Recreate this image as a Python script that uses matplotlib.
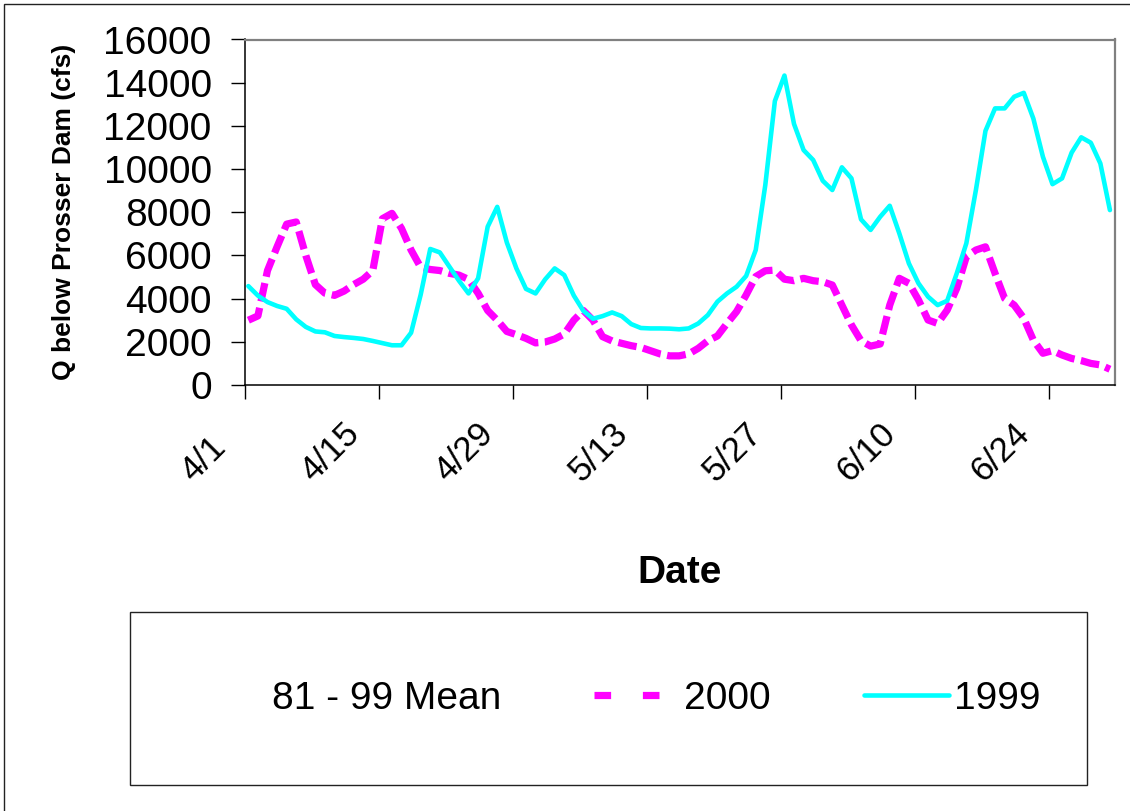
import numpy as np
import matplotlib
matplotlib.use("Agg")
import matplotlib.pyplot as plt
import matplotlib.transforms as mtransforms
from matplotlib.lines import Line2D
from matplotlib.patches import Rectangle

plt.rcParams['font.family'] = ['Liberation Sans', 'DejaVu Sans']

# dias desde 4/1 (4/1 ... 6/30)
tick_labels = ['4/1', '4/15', '4/29', '5/13', '5/27', '6/10', '6/24']
series_names = ['81 - 99 Mean', '2000', '1999']

# vazao abaixo de Prosser Dam (cfs)
q_2000 = [3000, 3200, 5300, 6400, 7450, 7550, 6000, 4650, 4250, 4150,
          4350, 4650, 4900, 5300, 7700, 7950, 7250, 6250, 5450, 5350,
          5300, 5170, 5090, 4890, 4250, 3450, 3000, 2480, 2330, 2160,
          1950, 1990, 2130, 2360, 3000, 3450, 3000, 2240, 2040, 1930,
          1820, 1740, 1590, 1440, 1350, 1350, 1440, 1700, 2050, 2270,
          2850, 3400, 4170, 5020, 5290, 5320, 4900, 4830, 4940, 4830,
          4780, 4630, 3700, 2780, 2050, 1800, 1900, 3700, 4940, 4710,
          3940, 3010, 2850, 3470, 4480, 5940, 6250, 6400, 5170, 4010,
          3700, 3090, 2080, 1470, 1590, 1390, 1230, 1130, 1000, 930,
          730]

q_1999 = [4580, 4140, 3840, 3660, 3530, 3040, 2690, 2480, 2440, 2270,
          2220, 2180, 2130, 2040, 1940, 1840, 1840, 2420, 4180, 6300,
          6140, 5480, 4830, 4240, 4940, 7330, 8250, 6600, 5400, 4450,
          4240, 4890, 5400, 5090, 4140, 3430, 3070, 3190, 3360, 3190,
          2820, 2640, 2620, 2620, 2610, 2580, 2620, 2850, 3240, 3860,
          4240, 4550, 5050, 6250, 9260, 13150, 14330, 12090, 10880, 10420,
          9460, 9030, 10080, 9570, 7670, 7180, 7790, 8300, 7020, 5630,
          4710, 4090, 3700, 3900, 5170, 6560, 9030, 11770, 12810, 12810,
          13350, 13530, 12340, 10570, 9300, 9570, 10760, 11470, 11220, 10260,
          8100]

dias = np.arange(len(q_2000))

W, H = 1130, 811
fig = plt.figure(figsize=(W / 100, H / 100), dpi=100)
ax = fig.add_axes([245 / W, 1 - 385 / H, 870 / W, 345.5 / H])

# 2000 tracejado, 1999 por cima
ax.plot(dias, q_2000, color='#FF00FF', lw=5.2, linestyle=(0, (2.6, 0.9)),
        dash_capstyle='butt')
ax.plot(dias, q_1999, color='#00FFFF', lw=3.3, solid_joinstyle='round',
        solid_capstyle='round')

ax.set_xlim(-0.35, 90.53)
ax.set_ylim(0, 16000)
ax.set_yticks(range(0, 16001, 2000))
ax.set_xticks(np.arange(0, 91, 14) - 0.35)
ax.set_xticklabels(tick_labels, rotation=45, ha='right', va='bottom',
                   fontsize=25)
ax.tick_params(axis='y', labelsize=28, length=10, width=1, pad=14)
ax.tick_params(axis='x', length=10, width=1, pad=23)

# rotulos alinhados pela base (~478 px)
desloc = mtransforms.ScaledTranslation(-13 / 100, -57 / 100, fig.dpi_scale_trans)
for lbl in ax.get_xticklabels():
    lbl.set_transform(lbl.get_transform() + desloc)

for s in ['top', 'right']:
    ax.spines[s].set_color('#808080')
    ax.spines[s].set_linewidth(1.6)
for s in ['left', 'bottom']:
    ax.spines[s].set_color('black')
    ax.spines[s].set_linewidth(1.1)

ax.set_xlabel('Date', fontsize=28, fontweight='bold', va='center')
ax.xaxis.set_label_coords(0.5, (385 - 573) / 345.5)
ax.set_ylabel('Q below Prosser Dam (cfs)', fontsize=19, fontweight='bold',
              va='center')
ax.yaxis.set_label_coords((64 - 245) / 870, 0.5)

# moldura da figura (cortada a direita e embaixo)
fig.patches.append(Rectangle((4 / W, -0.5), 2, 1.5 - 4 / H,
                             transform=fig.transFigure, fill=False,
                             edgecolor='#222222', lw=1.0))

# caixa da legenda
fig.patches.append(Rectangle((130 / W, 1 - 785 / H), (1087 - 130) / W,
                             (785 - 612) / H, transform=fig.transFigure,
                             fill=False, edgecolor='#222222', lw=1.0))

handles = [
    Line2D([], [], color='none', lw=3.3),
    Line2D([], [], color='#FF00FF', lw=5.2, linestyle=(0, (2.3, 4.4)),
           dash_capstyle='butt'),
    Line2D([], [], color='#00FFFF', lw=3.3, solid_capstyle='round'),
]
fig.legend(handles, series_names, loc='center',
           bbox_to_anchor=(611 / W, 1 - 699 / H), ncol=3, frameon=False,
           fontsize=28, handlelength=2.19, handletextpad=0.13,
           columnspacing=2.39, borderpad=0, borderaxespad=0)

fig.savefig('out.png', dpi=100)
plt.close(fig)
